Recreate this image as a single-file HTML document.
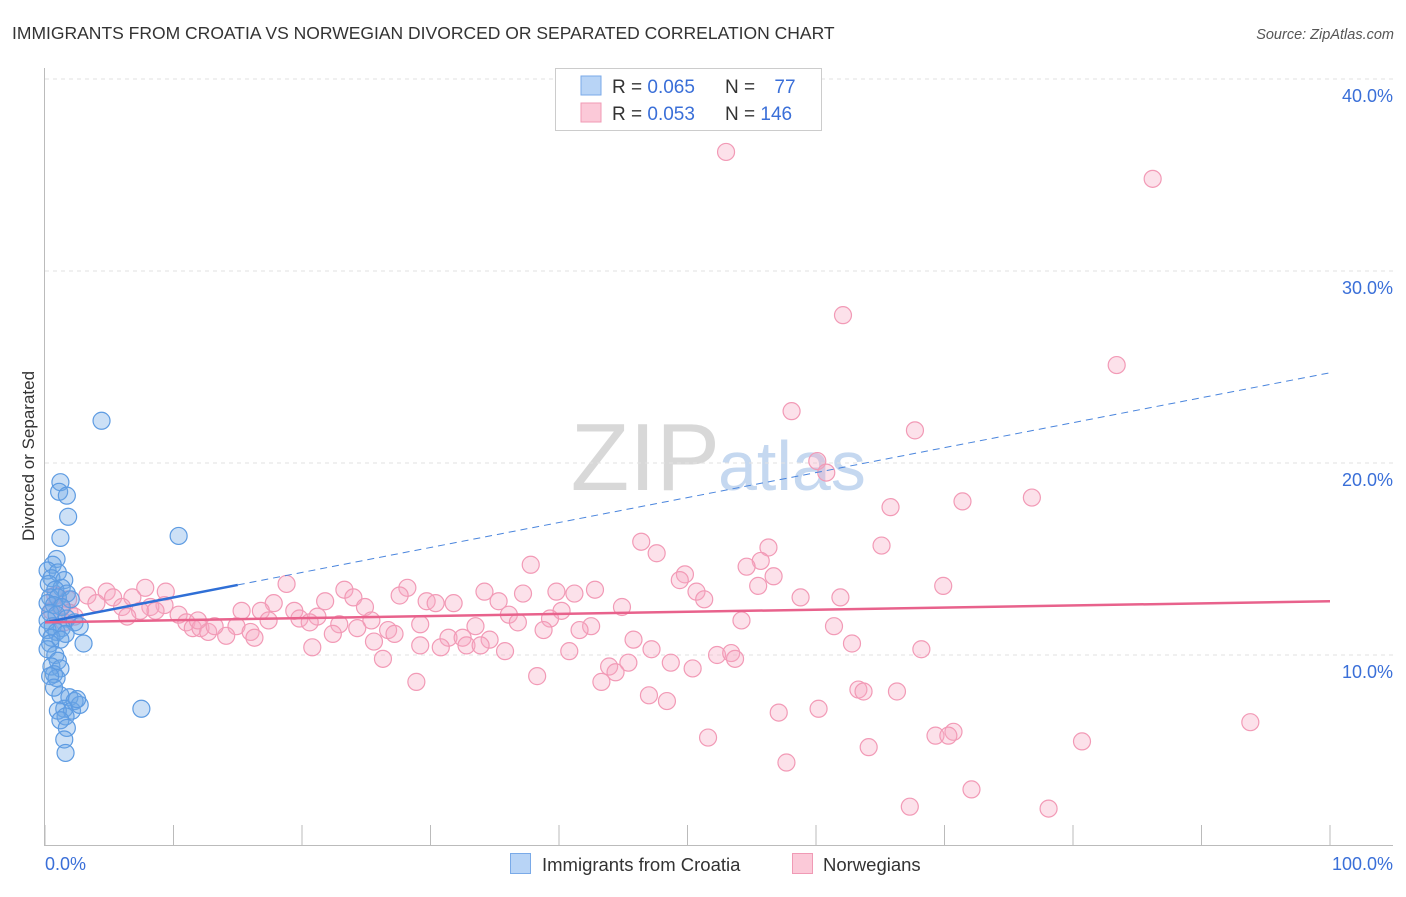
<!DOCTYPE html>
<html><head><meta charset="utf-8"><style>
body{margin:0;background:#fff;font-family:"Liberation Sans",sans-serif}
svg text{font-family:"Liberation Sans",sans-serif}
</style></head><body>
<svg id="c" width="1406" height="892" viewBox="0 0 1406 892">
<text x="12" y="39" font-size="17.5" fill="#333">IMMIGRANTS FROM CROATIA VS NORWEGIAN DIVORCED OR SEPARATED CORRELATION CHART</text>
<text x="1394" y="39" font-size="14.5" fill="#555" font-style="italic" text-anchor="end">Source: ZipAtlas.com</text>
<text x="720" y="490" font-size="96" fill="#d8d8d8" text-anchor="end" font-family="Liberation Serif">ZIP</text>
<text x="718" y="490" font-size="70" fill="#c5d8f0">atlas</text>
<g id="grid"></g>
<line x1="44.5" y1="68" x2="44.5" y2="846" stroke="#bbb"/>
<line x1="44" y1="845.5" x2="1393" y2="845.5" stroke="#bbb"/>
<g id="xt"></g>
<text transform="translate(34,456) rotate(-90)" font-size="17" fill="#333" text-anchor="middle">Divorced or Separated</text>
<text x="45" y="870" font-size="18" fill="#3a6fd8">0.0%</text>
<text x="1393" y="870" font-size="18" fill="#3a6fd8" text-anchor="end">100.0%</text>
<g id="pts"></g>
<g id="trend"></g>
<g>
<rect x="555.5" y="68.5" width="266" height="62" fill="#fff" stroke="#ccc"/>
<rect x="581" y="76" width="20" height="19" fill="#b8d4f6" stroke="#7aaae8"/>
<rect x="581" y="103" width="20" height="19" fill="#fbc9d8" stroke="#f09ab5"/>
<text x="612" y="93" font-size="19" fill="#333">R = <tspan fill="#3a6fd8">0.065</tspan></text>
<text x="725" y="93" font-size="19" fill="#333">N = <tspan fill="#3a6fd8" dx="14">77</tspan></text>
<text x="612" y="120" font-size="19" fill="#333">R = <tspan fill="#3a6fd8">0.053</tspan></text>
<text x="725" y="120" font-size="19" fill="#333">N = <tspan fill="#3a6fd8">146</tspan></text>
</g>
<g>
<rect x="510.5" y="853.5" width="20" height="20" fill="#b8d4f6" stroke="#7aaae8"/>
<text x="542" y="871" font-size="18.5" fill="#333">Immigrants from Croatia</text>
<rect x="792.5" y="853.5" width="20" height="20" fill="#fbc9d8" stroke="#f09ab5"/>
<text x="823" y="871" font-size="18.5" fill="#333">Norwegians</text>
</g>
</svg>
<script>
const yTicks=[10,20,30,40];
const yTickLabels=["10.0%","20.0%","30.0%","40.0%"];
const xTicks=[0,10,20,30,40,50,60,70,80,90,100];
const blueX=[4.4,1.2,1.1,1.7,1.8,10.4,1.2,0.9,0.6,0.2,1.0,0.5,1.5,0.3,1.3,0.8,1.7,0.4,1.0,2.0,0.2,0.7,1.3,0.4,0.9,1.7,0.2,2.3,0.6,1.3,2.7,0.2,0.9,1.6,0.5,3.0,1.2,0.4,0.2,0.8,1.0,0.5,1.2,0.7,0.9,0.4,7.5,1.2,1.9,2.3,1.5,2.1,2.7,1.0,1.6,1.2,1.7,1.5,1.6,2.5,0.7];
const blueY=[22.2,19.0,18.5,18.3,17.2,16.2,16.1,15.0,14.7,14.4,14.3,14.0,13.9,13.7,13.5,13.4,13.2,13.0,13.0,12.9,12.7,12.6,12.5,12.2,12.1,11.9,11.8,11.7,11.5,11.4,11.5,11.3,11.2,11.1,10.9,10.6,10.8,10.6,10.3,10.0,9.7,9.4,9.3,9.0,8.8,8.9,7.2,7.9,7.8,7.6,7.2,7.1,7.4,7.1,6.8,6.6,6.2,5.6,4.9,7.7,8.3];
const pinkX=[53.0,86.2,62.1,83.4,58.1,67.7,60.1,60.8,76.8,71.4,65.8,46.4,65.1,47.6,56.3,55.7,37.8,54.6,49.8,49.4,56.7,69.9,55.5,50.7,51.3,58.8,61.9,42.8,39.8,41.2,37.2,34.2,28.2,23.3,18.8,24.0,27.6,29.7,30.4,31.8,35.3,21.8,17.8,24.9,15.3,16.8,19.4,44.9,40.2,36.1,39.3,36.8,54.2,21.2,19.8,17.4,20.6,25.4,29.2,33.5,42.5,38.8,41.6,61.4,22.9,24.3,22.4,26.7,27.2,14.9,16.0,14.1,16.3,31.4,32.5,34.6,45.8,25.6,29.2,30.8,32.8,33.9,20.8,35.8,40.8,62.8,47.2,52.3,68.2,53.4,53.7,26.3,48.7,45.4,43.9,50.4,44.4,43.3,38.3,28.9,63.3,63.7,66.3,47.0,48.4,60.2,57.1,93.8,70.7,69.3,70.3,51.6,80.7,64.1,57.7,72.1,67.3,78.1,7.8,9.4,4.8,6.8,3.3,5.3,4.0,9.3,6.0,8.2,7.4,8.6,10.4,6.4,1.8,1.2,1.9,2.3,1.5,11.0,11.5,12.1,12.7,13.2,11.9,0.8,0.5];
const pinkY=[36.2,34.8,27.7,25.1,22.7,21.7,20.1,19.5,18.2,18.0,17.7,15.9,15.7,15.3,15.6,14.9,14.7,14.6,14.2,13.9,14.1,13.6,13.6,13.3,12.9,13.0,13.0,13.4,13.3,13.2,13.2,13.3,13.5,13.4,13.7,13.0,13.1,12.8,12.7,12.7,12.8,12.8,12.7,12.5,12.3,12.3,12.3,12.5,12.3,12.1,11.9,11.7,11.8,12.0,11.9,11.8,11.7,11.8,11.6,11.5,11.5,11.3,11.3,11.5,11.6,11.4,11.1,11.3,11.1,11.5,11.2,11.0,10.9,10.9,10.9,10.8,10.8,10.7,10.5,10.4,10.5,10.5,10.4,10.2,10.2,10.6,10.3,10.0,10.3,10.1,9.8,9.8,9.6,9.6,9.4,9.3,9.1,8.6,8.9,8.6,8.2,8.1,8.1,7.9,7.6,7.2,7.0,6.5,6.0,5.8,5.8,5.7,5.5,5.2,4.4,3.0,2.1,2.0,13.5,13.3,13.3,13.0,13.1,13.0,12.7,12.6,12.5,12.5,12.3,12.3,12.1,12.0,12.9,12.5,12.2,12.0,11.7,11.7,11.4,11.4,11.2,11.5,11.8,13.1,12.3];
const blueTrend=[11.7,0.13]; // intercept, slope per x%
const blueSolidEnd=15;
const pinkTrend=[11.7,0.011];
const X=v=>45+v*12.85, Y=v=>847-v*19.2;
const NS="http://www.w3.org/2000/svg";
function mk(t,a,p){const e=document.createElementNS(NS,t);for(const k in a)e.setAttribute(k,a[k]);p.appendChild(e);return e;}
const grid=document.getElementById('grid');
yTicks.forEach((t,i)=>{
 const l=mk('line',{x1:45,x2:1393,y1:Y(t),y2:Y(t),stroke:'#e2e2e2','stroke-dasharray':'4,4'},grid);
 
 
 const tx=mk('text',{x:1393,y:Y(t)+23,'font-size':18,fill:'#3a6fd8','text-anchor':'end'},grid);
 tx.textContent=yTickLabels[i];
 
 
});
const xt=document.getElementById('xt');
xTicks.forEach(t=>{
 const l=mk('line',{x1:X(t),x2:X(t),y1:825,y2:846,stroke:'#bbb'},xt);
 
 
});
const pts=document.getElementById('pts');
pinkX.forEach((x,i)=>{
 const c=mk('circle',{cx:X(x),cy:Y(pinkY[i]),r:8.5,fill:'rgba(247,170,195,0.35)',stroke:'#f29ab6','stroke-width':1.2},pts);
 
 
});
blueX.forEach((x,i)=>{
 const c=mk('circle',{cx:X(x),cy:Y(blueY[i]),r:8.5,fill:'rgba(110,165,230,0.35)',stroke:'#5d9be2','stroke-width':1.2},pts);
 
 
});
const tr=document.getElementById('trend');
const bf=x=>blueTrend[0]+blueTrend[1]*x, pf=x=>pinkTrend[0]+pinkTrend[1]*x;
let e=mk('line',{x1:X(blueSolidEnd),y1:Y(bf(blueSolidEnd)),x2:X(100),y2:Y(bf(100)),stroke:'#4a85dd','stroke-width':1,'stroke-dasharray':'7,5'},tr);


e=mk('line',{x1:X(0),y1:Y(bf(0)),x2:X(blueSolidEnd),y2:Y(bf(blueSolidEnd)),stroke:'#2f6fd6','stroke-width':2.5},tr);


e=mk('line',{x1:X(0),y1:Y(pf(0)),x2:X(100),y2:Y(pf(100)),stroke:'#e8628c','stroke-width':2.5},tr);


</script>
</body></html>
